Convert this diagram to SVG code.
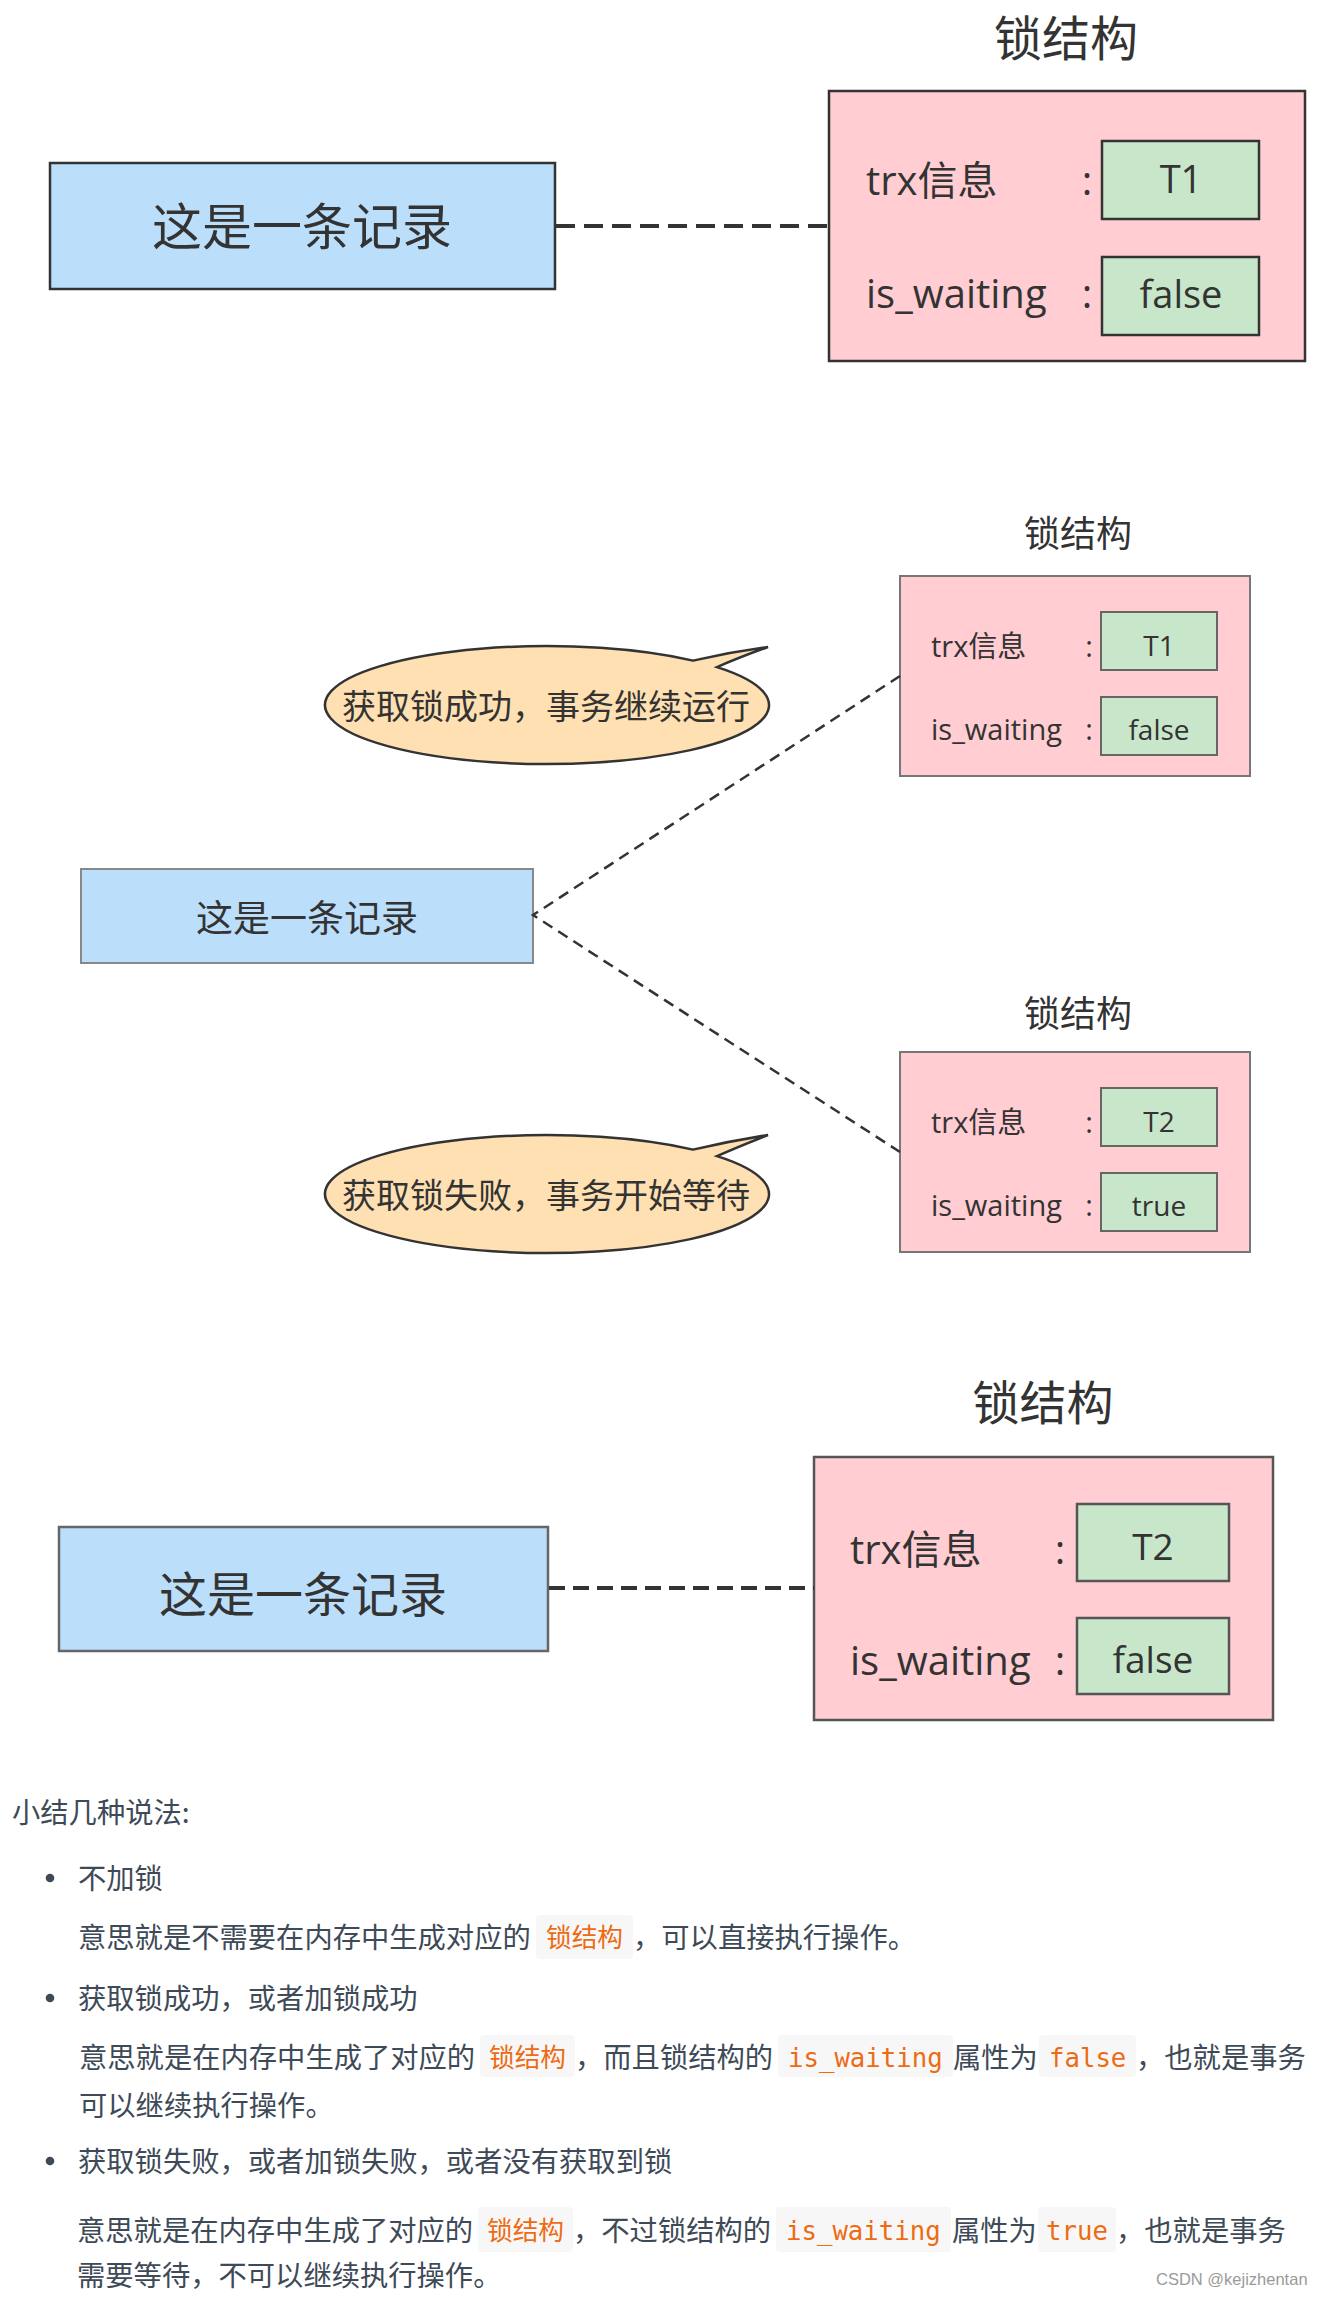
<svg xmlns="http://www.w3.org/2000/svg" width="1317" height="2298" viewBox="0 0 1317 2298">
<style>
.dg{font-family:"Open Sans","Noto Sans CJK SC",sans-serif;fill:#333}
.cj{font-family:"Noto Sans CJK SC","Open Sans",sans-serif;fill:#333}
.rec{fill:#bbdefb}
.lock{fill:#ffcdd2}
.val{fill:#c8e6c9}
.bub{fill:#ffe0b2;stroke:#333;stroke-width:2.5}
.body{font-family:"Noto Sans CJK SC",sans-serif;font-size:28.3px;fill:#3e4a57}
.code{font-family:"DejaVu Sans Mono","Noto Sans CJK SC",monospace;font-size:25.7px;fill:#ec6b13}
.cbg{fill:#f7f7f7}
.mid{text-anchor:middle}
</style>
<rect width="1317" height="2298" fill="#ffffff"/>

<!-- Section 1 -->
<g id="s1-title"><text class="cj mid" x="1066" y="56" font-size="48">锁结构</text></g>
<g id="s1-record">
<rect class="rec" x="50" y="163" width="505" height="126" stroke="#333" stroke-width="2.5"/>
<text class="cj mid" x="302" y="245" font-size="50">这是一条记录</text>
</g>
<g id="s1-lock">
<rect class="lock" x="829" y="91" width="476" height="270" stroke="#333" stroke-width="2.5"/>
<text class="dg" x="866" y="195" font-size="40">trx信息</text>
<text class="dg mid" x="1087" y="195" font-size="40">:</text>
<rect class="val" x="1102" y="141" width="157" height="78" stroke="#333" stroke-width="2.5"/>
<text class="dg mid" x="1181" y="193" font-size="38">T1</text>
<text class="dg" x="866" y="308" font-size="40">is_waiting</text>
<text class="dg mid" x="1087" y="308" font-size="40">:</text>
<rect class="val" x="1102" y="257" width="157" height="78" stroke="#333" stroke-width="2.5"/>
<text class="dg mid" x="1181" y="308" font-size="38">false</text>
</g>

<!-- Section 2 -->
<g id="s2-title1"><text class="cj mid" x="1078" y="547" font-size="36">锁结构</text></g>
<g id="s2-lock1">
<rect class="lock" x="900" y="576" width="350" height="200" stroke="#777" stroke-width="2"/>
<text class="dg" x="931" y="657" font-size="29">trx信息</text>
<text class="dg mid" x="1089" y="657" font-size="29">:</text>
<rect class="val" x="1101" y="612" width="116" height="58" stroke="#666" stroke-width="2"/>
<text class="dg mid" x="1159" y="656" font-size="28">T1</text>
<text class="dg" x="931" y="740" font-size="29">is_waiting</text>
<text class="dg mid" x="1089" y="740" font-size="29">:</text>
<rect class="val" x="1101" y="697" width="116" height="58" stroke="#666" stroke-width="2"/>
<text class="dg mid" x="1159" y="740" font-size="28">false</text>
</g>
<g id="s2-bubble1">
<path class="bub" d="M717 667.1 A222 59 0 1 1 693 660.6 Q730 652 768 647 Q740 657 717 667.1 Z"/>
<text class="cj mid" x="546" y="719" font-size="34">获取锁成功，事务继续运行</text>
</g>
<g id="s2-record">
<rect class="rec" x="81" y="869" width="452" height="94" stroke="#888" stroke-width="2"/>
<text class="cj mid" x="307" y="932" font-size="37">这是一条记录</text>
</g>
<g id="s2-title2"><text class="cj mid" x="1078" y="1027" font-size="36">锁结构</text></g>
<g id="s2-lock2">
<rect class="lock" x="900" y="1052" width="350" height="200" stroke="#777" stroke-width="2"/>
<text class="dg" x="931" y="1133" font-size="29">trx信息</text>
<text class="dg mid" x="1089" y="1133" font-size="29">:</text>
<rect class="val" x="1101" y="1088" width="116" height="58" stroke="#666" stroke-width="2"/>
<text class="dg mid" x="1159" y="1132" font-size="28">T2</text>
<text class="dg" x="931" y="1216" font-size="29">is_waiting</text>
<text class="dg mid" x="1089" y="1216" font-size="29">:</text>
<rect class="val" x="1101" y="1173" width="116" height="58" stroke="#666" stroke-width="2"/>
<text class="dg mid" x="1159" y="1216" font-size="28">true</text>
</g>
<g id="s2-bubble2">
<path class="bub" d="M717 1156.1 A222 59 0 1 1 693 1149.6 Q730 1141 768 1135 Q740 1146 717 1156.1 Z"/>
<text class="cj mid" x="546" y="1208" font-size="34">获取锁失败，事务开始等待</text>
</g>

<!-- Section 3 -->
<g id="s3-title"><text class="cj mid" x="1043" y="1420" font-size="47">锁结构</text></g>
<g id="s3-record">
<rect class="rec" x="59" y="1527" width="489" height="124" stroke="#666" stroke-width="2.5"/>
<text class="cj mid" x="303" y="1612" font-size="48">这是一条记录</text>
</g>
<g id="s3-lock">
<rect class="lock" x="814" y="1457" width="459" height="263" stroke="#555" stroke-width="2.5"/>
<text class="dg" x="850" y="1564" font-size="40">trx信息</text>
<text class="dg mid" x="1060" y="1564" font-size="40">:</text>
<rect class="val" x="1077" y="1504" width="152" height="77" stroke="#555" stroke-width="2.5"/>
<text class="dg mid" x="1153" y="1560" font-size="37">T2</text>
<text class="dg" x="850" y="1675" font-size="40">is_waiting</text>
<text class="dg mid" x="1060" y="1675" font-size="40">:</text>
<rect class="val" x="1077" y="1618" width="152" height="76" stroke="#555" stroke-width="2.5"/>
<text class="dg mid" x="1153" y="1673" font-size="37">false</text>
</g>

<!-- Connectors -->
<g id="connectors" fill="none" stroke="#333">
<line x1="556" y1="226" x2="829" y2="226" stroke-width="4" stroke-dasharray="19 9"/>
<polyline points="900,676 533,915 900,1152" stroke-width="2.5" stroke-dasharray="11 7"/>
<line x1="549" y1="1588" x2="814" y2="1588" stroke-width="4" stroke-dasharray="16 8"/>
</g>

<!-- Summary text -->
<g id="summary">
<text class="body" x="12" y="1823">小结几种说法:</text>

<circle cx="50" cy="1878" r="4.3" fill="#3e4a57"/>
<text class="body" x="78" y="1889">不加锁</text>
<text class="body" x="78" y="1948">意思就是不需要在内存中生成对应的</text>
<rect class="cbg" x="536" y="1915" width="97" height="44" rx="4"/>
<text class="code" x="546" y="1947">锁结构</text>
<text class="body" x="633" y="1948">，可以直接执行操作。</text>

<circle cx="50" cy="1998" r="4.3" fill="#3e4a57"/>
<text class="body" x="78" y="2009">获取锁成功，或者加锁成功</text>
<text class="body" x="79" y="2068">意思就是在内存中生成了对应的</text>
<rect class="cbg" x="480" y="2035" width="95" height="42" rx="4"/>
<text class="code" x="489" y="2067">锁结构</text>
<text class="body" x="575" y="2068">，而且锁结构的</text>
<rect class="cbg" x="778" y="2035" width="175" height="42" rx="4"/>
<text class="code" x="788" y="2067">is_waiting</text>
<text class="body" x="953" y="2068">属性为</text>
<rect class="cbg" x="1039" y="2035" width="97" height="42" rx="4"/>
<text class="code" x="1049" y="2067">false</text>
<text class="body" x="1136" y="2068">，也就是事务</text>
<text class="body" x="79" y="2116">可以继续执行操作。</text>

<circle cx="50" cy="2161" r="4.3" fill="#3e4a57"/>
<text class="body" x="78" y="2172">获取锁失败，或者加锁失败，或者没有获取到锁</text>
<text class="body" x="77" y="2241">意思就是在内存中生成了对应的</text>
<rect class="cbg" x="478" y="2207" width="95" height="45" rx="4"/>
<text class="code" x="487" y="2240">锁结构</text>
<text class="body" x="573" y="2241">，不过锁结构的</text>
<rect class="cbg" x="776" y="2207" width="175" height="45" rx="4"/>
<text class="code" x="786" y="2240">is_waiting</text>
<text class="body" x="952" y="2241">属性为</text>
<rect class="cbg" x="1038" y="2207" width="78" height="45" rx="4"/>
<text class="code" x="1046" y="2240">true</text>
<text class="body" x="1116" y="2241">，也就是事务</text>
<text class="body" x="77" y="2286">需要等待，不可以继续执行操作。</text>

<text x="1156" y="2285" font-family="Liberation Sans,Arial,sans-serif" font-size="16.5" fill="#9a9a9a">CSDN @kejizhentan</text>
</g>
</svg>
